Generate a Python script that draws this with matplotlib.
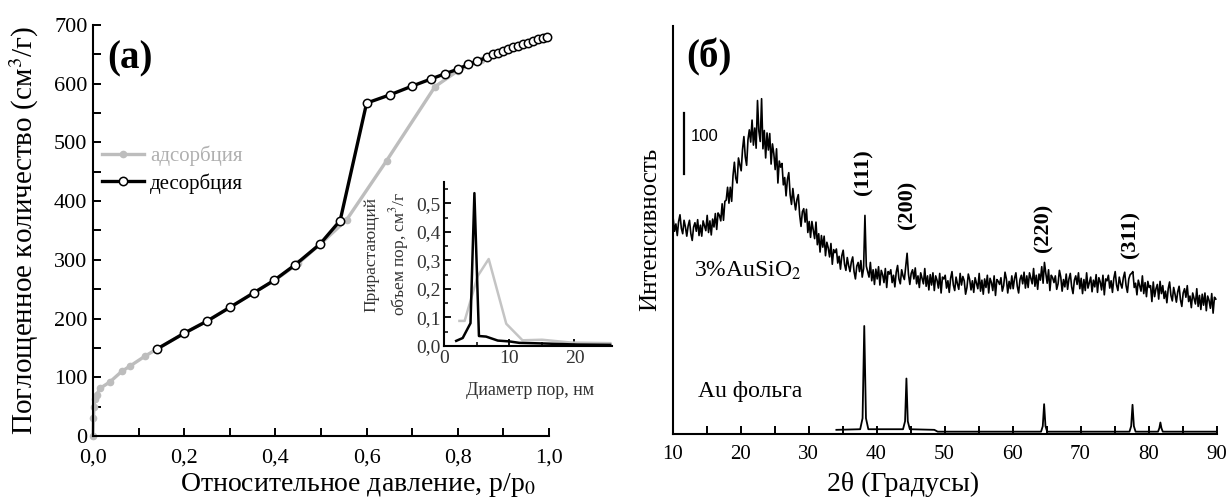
import matplotlib
matplotlib.use('Agg')
import matplotlib.pyplot as plt
import numpy as np
from matplotlib.ticker import MultipleLocator

plt.rcParams['font.family'] = ['Liberation Serif', 'DejaVu Serif']
plt.rcParams['mathtext.fontset'] = 'stix'

# ---------------- (а) isotherm ----------------
ads_x = [0.0, 0.001, 0.002, 0.004, 0.008, 0.015, 0.037, 0.063, 0.081, 0.114, 0.14, 0.20, 0.25,
         0.30, 0.35, 0.40, 0.45, 0.50, 0.556, 0.644, 0.75, 0.80, 0.85]
ads_y = [0, 30, 50, 63, 70, 81, 92, 110, 119, 136, 148, 175, 196, 219, 243, 266, 294, 328,
         368, 469, 595, 622, 640]

des_x = [0.14, 0.20, 0.251, 0.30, 0.353, 0.397, 0.444, 0.498, 0.542, 0.60, 0.651, 0.70, 0.741,
         0.772, 0.801, 0.823, 0.843, 0.863, 0.878, 0.889, 0.900, 0.911, 0.922, 0.933, 0.944,
         0.955, 0.965, 0.976, 0.987, 0.995]
des_y = [148, 175, 196, 219, 244, 265, 292, 327, 367, 567, 581, 596, 608, 617, 625, 633, 638,
         645, 650, 653, 656, 659, 662, 665, 668, 670, 673, 676, 678, 680]

iso_xticks = [0.0, 0.2, 0.4, 0.6, 0.8, 1.0]
iso_xticklabels = ['0,0', '0,2', '0,4', '0,6', '0,8', '1,0']
iso_yticks = [0, 100, 200, 300, 400, 500, 600, 700]

# inset: pore size distribution
psd_d_black = [1.8, 2.8, 4.0, 4.6, 5.3, 6.4, 8.2, 10.0, 11.5, 15.0, 20.5, 25.5]
psd_v_black = [0.018, 0.028, 0.08, 0.536, 0.035, 0.033, 0.019, 0.016, 0.011, 0.009, 0.005, 0.004]
psd_d_gray = [2.3, 3.1, 5.1, 6.8, 9.5, 12.0, 15.0, 19.5, 25.5]
psd_v_gray = [0.088, 0.088, 0.245, 0.305, 0.078, 0.02, 0.022, 0.012, 0.01]
psd_yticks = [0.0, 0.1, 0.2, 0.3, 0.4, 0.5]
psd_yticklabels = ['0,0', '0,1', '0,2', '0,3', '0,4', '0,5']
psd_xticks = [0, 10, 20]

# ---------------- (б) XRD ----------------
xrd_x = np.linspace(10.1, 89.9, 400)   # 0.2 degree sampling grid
xrd_aus = [
    352, 331, 343, 324, 347, 358, 336, 327, 349, 338,
    323, 340, 349, 327, 316, 338, 345, 331, 350, 324,
    341, 323, 348, 340, 332, 357, 329, 348, 325, 351,
    338, 360, 334, 361, 357, 348, 376, 349, 380, 382,
    403, 377, 403, 380, 422, 444, 418, 410, 451, 440,
    430, 465, 486, 453, 439, 481, 497, 477, 513, 472,
    500, 467, 545, 495, 478, 548, 466, 496, 451, 492,
    464, 491, 441, 474, 458, 432, 466, 410, 446, 436,
    442, 407, 419, 389, 416, 427, 391, 375, 401, 381,
    366, 383, 391, 358, 339, 363, 368, 346, 367, 329,
    347, 321, 347, 333, 319, 346, 309, 327, 297, 324,
    305, 323, 291, 313, 304, 289, 311, 277, 301, 296,
    302, 279, 290, 269, 291, 300, 277, 267, 288, 275,
    265, 281, 289, 265, 253, 274, 280, 265, 283, 256,
    270, 357, 274, 265, 256, 280, 250, 268, 244, 269,
    253, 273, 243, 267, 260, 247, 270, 239, 265, 261,
    268, 247, 259, 240, 264, 275, 253, 245, 268, 258,
    252, 274, 295, 261, 244, 262, 268, 253, 271, 245,
    258, 239, 263, 254, 245, 270, 241, 258, 235, 260,
    243, 263, 234, 258, 251, 238, 262, 230, 256, 253,
    259, 238, 250, 231, 254, 265, 243, 234, 256, 245,
    236, 262, 243, 257, 250, 228, 239, 261, 252, 235,
    250, 231, 255, 246, 237, 262, 233, 251, 228, 253,
    239, 259, 230, 254, 247, 234, 258, 226, 252, 249,
    244, 255, 233, 242, 264, 253, 230, 249, 237, 258,
    237, 254, 263, 241, 230, 252, 259, 245, 264, 238,
    258, 239, 263, 254, 245, 270, 241, 259, 236, 261,
    251, 273, 246, 280, 262, 246, 268, 234, 259, 255,
    247, 258, 236, 245, 267, 256, 233, 252, 240, 261,
    236, 253, 262, 240, 229, 251, 258, 244, 263, 237,
    254, 229, 252, 234, 263, 238, 247, 256, 232, 251,
    240, 260, 231, 255, 248, 235, 259, 227, 253, 250,
    259, 238, 250, 231, 254, 265, 243, 234, 256, 245,
    238, 255, 264, 242, 231, 253, 260, 262, 265, 239,
    246, 227, 251, 242, 233, 258, 229, 247, 224, 249,
    239, 242, 216, 248, 224, 237, 244, 220, 249, 229,
    242, 221, 233, 214, 237, 248, 226, 217, 239, 228,
    215, 232, 241, 219, 208, 230, 237, 223, 242, 216,
    225, 206, 230, 221, 212, 237, 208, 226, 203, 228,
    210, 230, 201, 225, 218, 205, 229, 197, 223, 220,
]
au_x = [34.1, 37.6, 37.95, 38.2, 38.45, 38.8, 43.9, 44.2, 44.4, 44.6, 44.9, 48.5, 49.0,
        64.2, 64.45, 64.65, 64.85, 65.1, 77.2, 77.45, 77.65, 77.85, 78.1,
        81.4, 81.6, 81.75, 81.9, 82.1, 90.0]
au_y = [6, 7, 25, 176, 25, 7, 7, 20, 90, 20, 7, 6, 3,
        3, 12, 48, 12, 3, 3, 12, 47, 12, 3,
        3, 9, 18, 9, 3, 3]
xrd_xticks = [10, 20, 30, 40, 50, 60, 70, 80, 90]
hkl_labels = ['(111)', '(200)', '(220)', '(311)']
hkl_x = [38.1, 44.6, 64.5, 77.3]
hkl_y = [428, 374, 337, 326]

GRAY = '#bdbdbd'
W, H = 1231, 499

fig = plt.figure(figsize=(W / 100, H / 100), dpi=100)

# ---------- panel (а) ----------
ax1 = fig.add_axes([93 / W, 63 / H, 456 / W, 411 / H])
ax1.plot(ads_x, ads_y, color=GRAY, lw=2.4, marker='o', ms=4.5, mfc=GRAY, mec=GRAY,
         label='адсорбция', zorder=2, clip_on=False)
ax1.plot(des_x, des_y, color='black', lw=2.4, marker='o', ms=6, mfc='white', mec='black',
         mew=1.1, label='десорбция', zorder=3, clip_on=False)
ax1.set_xlim(0, 1.0)
ax1.set_ylim(0, 700)
for s in ['top', 'right']:
    ax1.spines[s].set_visible(False)
for s in ['left', 'bottom']:
    ax1.spines[s].set_linewidth(1.5)
ax1.set_xticks(iso_xticks)
ax1.set_xticklabels(iso_xticklabels)
ax1.set_yticks(iso_yticks)
ax1.xaxis.set_minor_locator(MultipleLocator(0.1))
ax1.yaxis.set_minor_locator(MultipleLocator(50))
ax1.tick_params(which='both', direction='in', width=1.4, length=6, labelsize=16)
ax1.tick_params(axis='x', which='both', pad=9)
ax1.tick_params(axis='y', which='both', pad=4)
ax1.set_xlabel('Относительное давление, p/p$_0$', fontsize=20)
ax1.xaxis.set_label_coords(0.58, -0.086)
ax1.set_ylabel('Поглощенное количество (см$^3$/г)', fontsize=21)
ax1.yaxis.set_label_coords(-0.115, 0.5)
ax1.text(0.031, 642, '(а)', fontsize=28, fontweight='bold', va='center', ha='left',
         transform=ax1.get_yaxis_transform())
leg = ax1.legend(loc='upper left', bbox_to_anchor=(0.02, 0.707), frameon=False, fontsize=15,
                 handlelength=2.0, handletextpad=0.3, labelspacing=0.35, borderpad=0,
                 borderaxespad=0)
leg.get_texts()[0].set_color('#b0b0b0')

# inset
ax3 = fig.add_axes([444.5 / W, 153 / H, 167.7 / W, 164 / H])
ax3.set_facecolor('none')
ax3.plot(psd_d_gray, psd_v_gray, color='#c4c4c4', lw=1.8, clip_on=False)
ax3.plot(psd_d_black, psd_v_black, color='black', lw=1.8, clip_on=False)
ax3.set_xlim(0, 25.8)
ax3.set_ylim(0, 0.575)
for s in ['top', 'right']:
    ax3.spines[s].set_visible(False)
for s in ['left', 'bottom']:
    ax3.spines[s].set_linewidth(1.5)
ax3.set_yticks(psd_yticks)
ax3.set_yticklabels(psd_yticklabels)
ax3.set_xticks(psd_xticks)
ax3.xaxis.set_minor_locator(MultipleLocator(5))
ax3.yaxis.set_minor_locator(MultipleLocator(0.05))
ax3.tick_params(which='major', direction='in', width=1.3, length=5, labelsize=14, pad=3,
                labelcolor='#333333')
ax3.tick_params(which='minor', direction='in', width=1.1, length=3)
ax3.set_xlabel('Диаметр пор, нм', fontsize=13, color='#333333')
ax3.xaxis.set_label_coords(0.51, -0.22)
ax3.set_ylabel('Прирастающий\nобъем пор, см$^3$/г', fontsize=12.5, color='#333333',
               linespacing=1.45)
ax3.yaxis.set_label_coords(-0.2, 0.56)

# ---------- panel (б) ----------
ax2 = fig.add_axes([672.5 / W, 65.5 / H, 544 / W, 407.5 / H])
ax2.plot(xrd_x, xrd_aus, color='black', lw=1.2)
ax2.plot(au_x, au_y, color='black', lw=1.3)
ax2.set_xlim(10, 90)
ax2.set_ylim(0, 667)
for s in ['top', 'right']:
    ax2.spines[s].set_visible(False)
for s in ['left', 'bottom']:
    ax2.spines[s].set_linewidth(1.5)
ax2.set_yticks([])
ax2.set_xticks(xrd_xticks)
ax2.xaxis.set_minor_locator(MultipleLocator(5))
ax2.tick_params(which='both', direction='in', width=1.4, length=6, labelsize=15, pad=8)
ax2.set_xlabel('2θ (Градусы)', fontsize=20)
ax2.xaxis.set_label_coords(0.424, -0.095)
ax2.set_ylabel('Интенсивность', fontsize=18)
ax2.yaxis.set_label_coords(-0.02, 0.5)
ax2.text(12.0, 616, '(б)', fontsize=28, fontweight='bold', va='center', ha='left')
ax2.plot([11.7, 11.7], [424, 524], color='black', lw=1.6)
ax2.text(12.7, 486, '100', fontsize=12, va='center', ha='left', family='Liberation Sans')
for lab, xx, yy in zip(hkl_labels, hkl_x, hkl_y):
    ax2.text(xx, yy, lab, rotation=90, fontsize=16, fontweight='bold', ha='center', va='center')
ax2.text(13.2, 267, '3%AuSiO$_2$', fontsize=17, va='center', ha='left')
ax2.text(13.7, 68, 'Au фольга', fontsize=17, va='center', ha='left')

fig.savefig('out.png', dpi=100)
